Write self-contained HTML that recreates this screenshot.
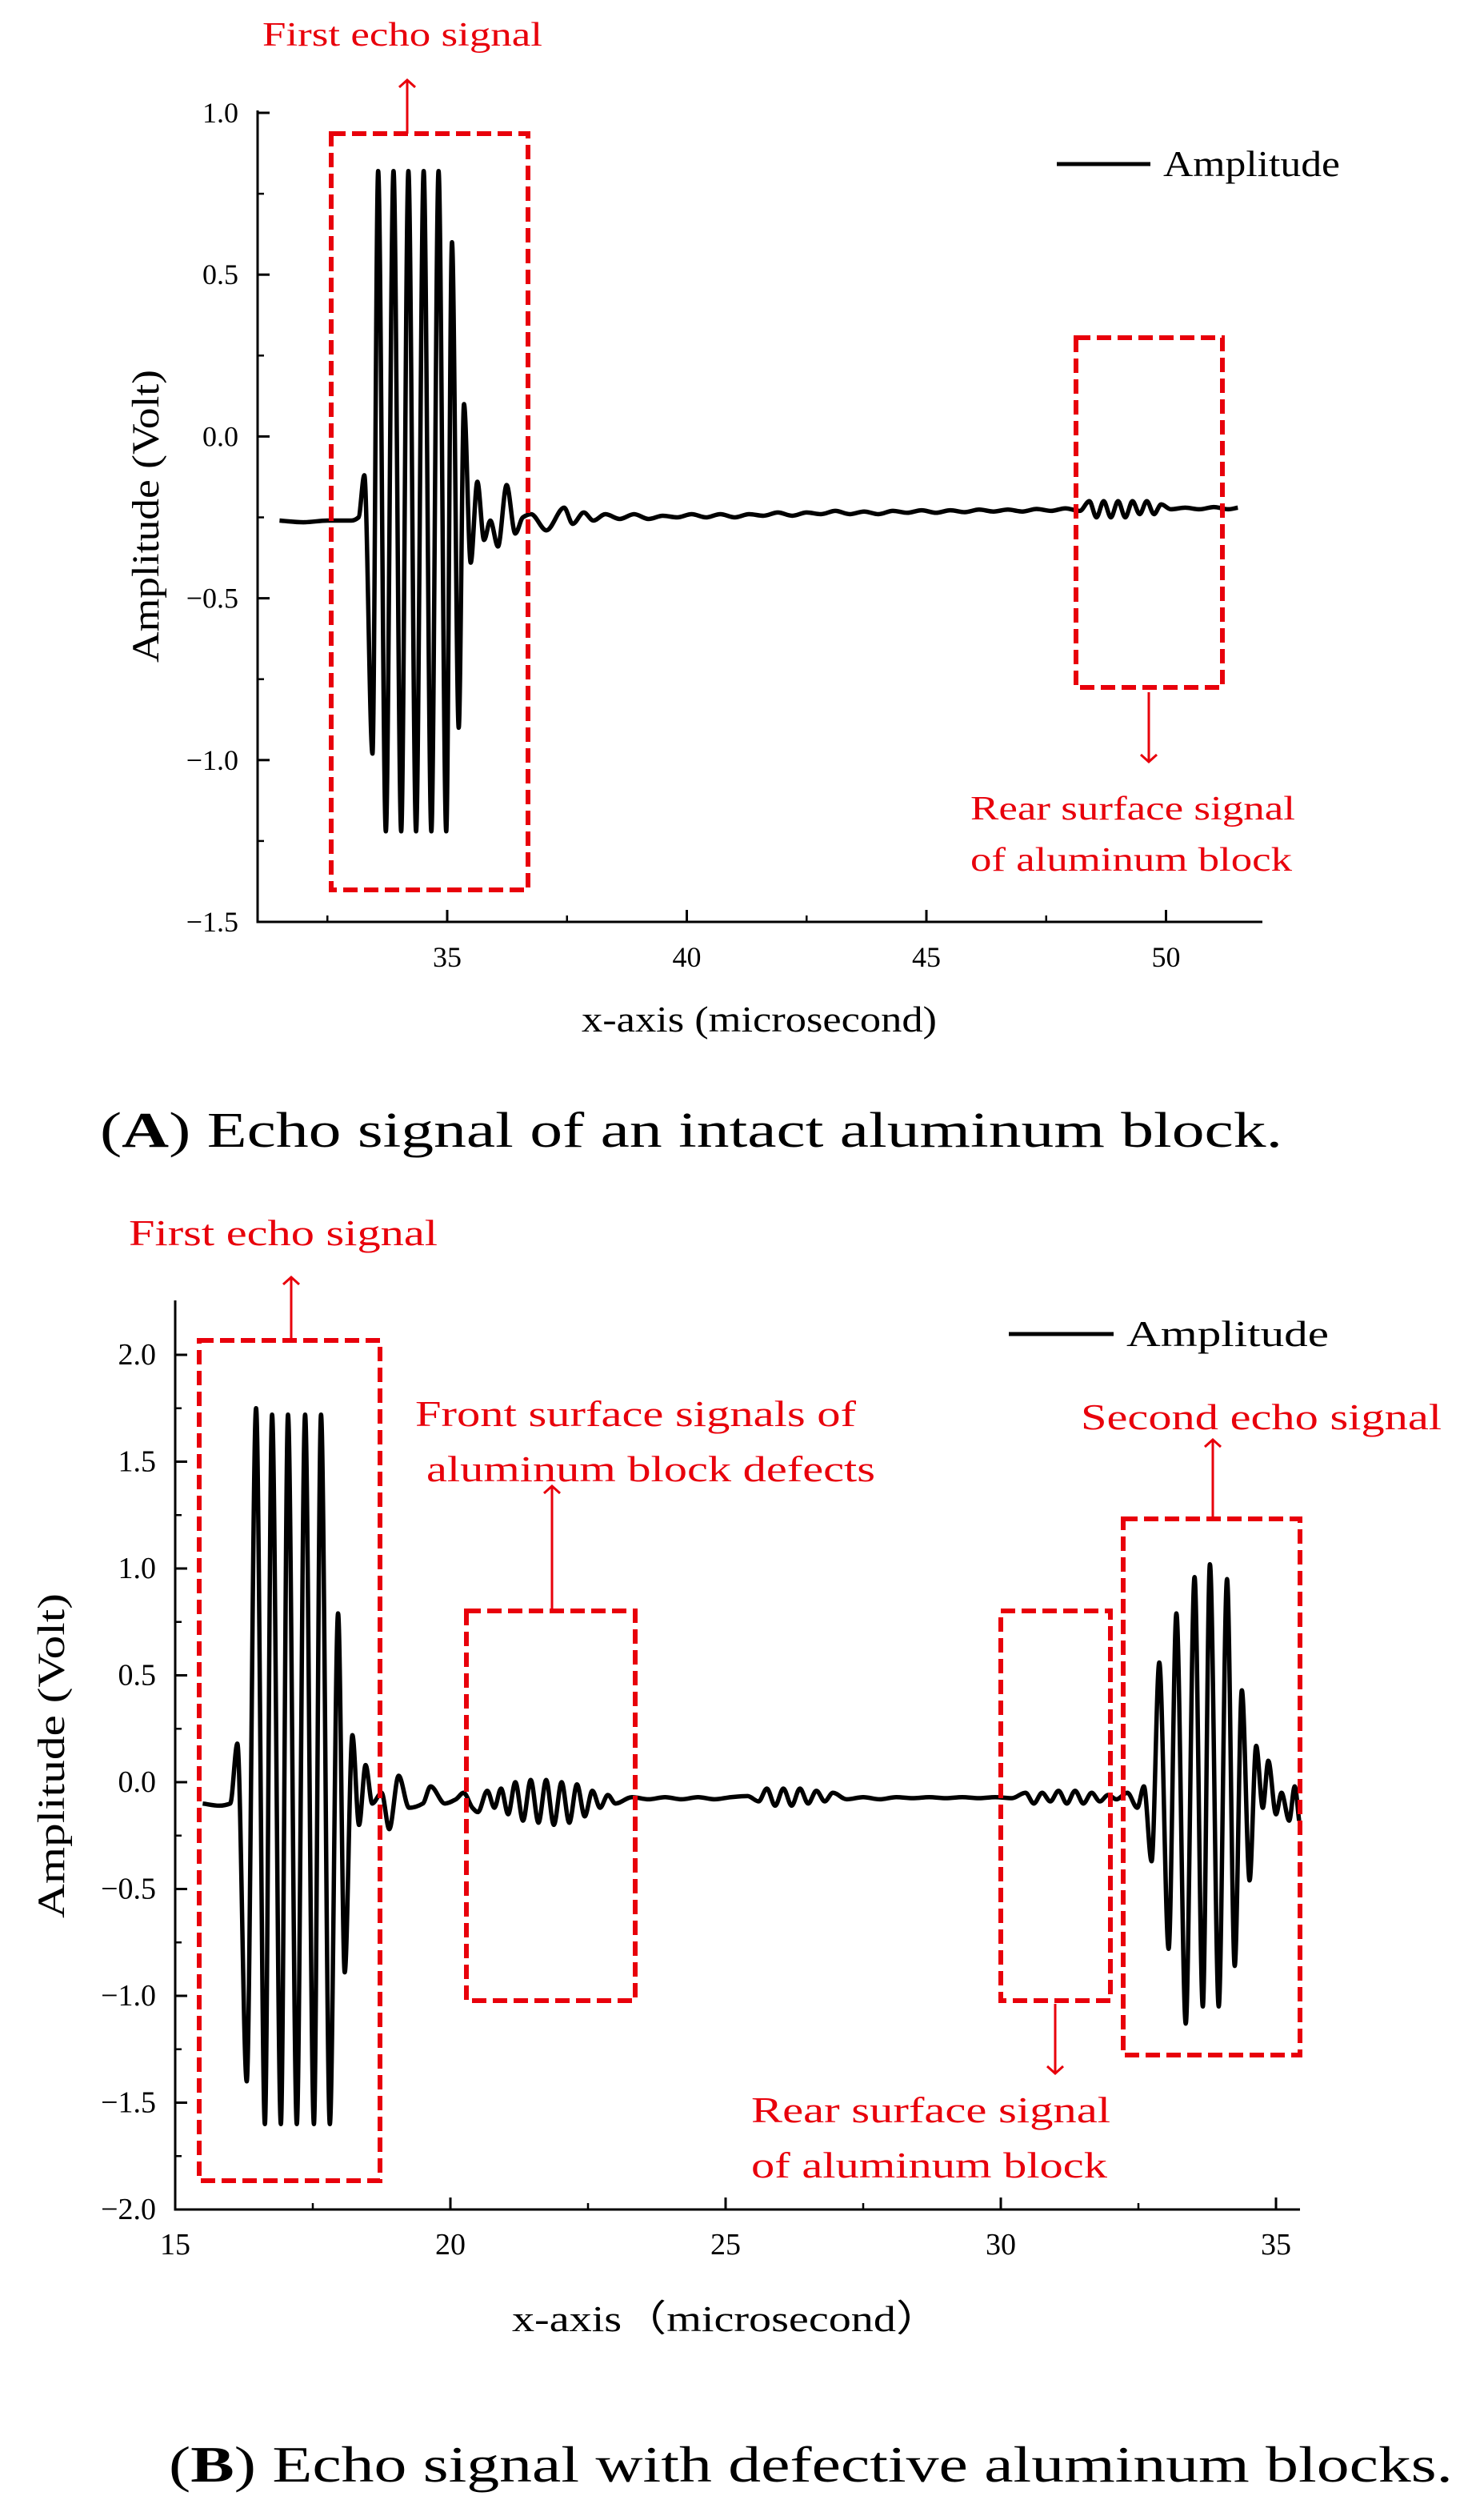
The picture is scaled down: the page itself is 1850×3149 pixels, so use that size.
<!DOCTYPE html>
<html><head><meta charset="utf-8"><style>
html,body{margin:0;padding:0;background:#fff}
svg{display:block}
text{font-family:"Liberation Serif",serif}
</style></head><body>
<svg id="fig" width="1850" height="3149" viewBox="0 0 1850 3149" xmlns="http://www.w3.org/2000/svg">
<defs>
<marker id="ah" markerWidth="20" markerHeight="24" refX="10" refY="12" orient="auto" markerUnits="userSpaceOnUse"><path d="M1,2 L10,12 L1,22" fill="none" stroke="#e8000b" stroke-width="3"/></marker>
</defs>
<g id="chartA"></g>
<g id="chartB"></g>

<!-- Chart A annotations -->
<g fill="#e8000b">
<rect x="414" y="167" width="246" height="945" fill="none" stroke="#e8000b" stroke-width="6" stroke-dasharray="18,8"/>
<line x1="509" y1="167" x2="509" y2="100" stroke="#e8000b" stroke-width="3" marker-end="url(#ah)"/>
<text x="328" y="57" font-size="42" textLength="350" lengthAdjust="spacingAndGlyphs">First echo signal</text>
<rect x="1345" y="422" width="183" height="437" fill="none" stroke="#e8000b" stroke-width="6" stroke-dasharray="18,8"/>
<line x1="1436" y1="865" x2="1436" y2="952" stroke="#e8000b" stroke-width="3" marker-end="url(#ah)"/>
<text x="1213" y="1024" font-size="42" textLength="406" lengthAdjust="spacingAndGlyphs">Rear surface signal</text>
<text x="1213" y="1088" font-size="42" textLength="402" lengthAdjust="spacingAndGlyphs">of aluminum block</text>
</g>
<text x="125" y="1433" font-size="62" textLength="1478" lengthAdjust="spacingAndGlyphs">(<tspan font-weight="bold">A</tspan>) Echo signal of an intact aluminum block.</text>

<!-- Chart B annotations -->
<g fill="#e8000b">
<rect x="249" y="1675" width="226" height="1050" fill="none" stroke="#e8000b" stroke-width="6" stroke-dasharray="18,8"/>
<line x1="364" y1="1675" x2="364" y2="1596" stroke="#e8000b" stroke-width="3" marker-end="url(#ah)"/>
<text x="161" y="1556" font-size="46" textLength="386" lengthAdjust="spacingAndGlyphs">First echo signal</text>
<rect x="583" y="2013" width="211" height="487" fill="none" stroke="#e8000b" stroke-width="6" stroke-dasharray="18,8"/>
<line x1="690" y1="2013" x2="690" y2="1857" stroke="#e8000b" stroke-width="3" marker-end="url(#ah)"/>
<text x="519" y="1782" font-size="46" textLength="551" lengthAdjust="spacingAndGlyphs">Front surface signals of</text>
<text x="533" y="1851" font-size="46" textLength="561" lengthAdjust="spacingAndGlyphs">aluminum block defects</text>
<rect x="1251" y="2013" width="137" height="487" fill="none" stroke="#e8000b" stroke-width="6" stroke-dasharray="18,8"/>
<line x1="1319" y1="2504" x2="1319" y2="2591" stroke="#e8000b" stroke-width="3" marker-end="url(#ah)"/>
<text x="939" y="2652" font-size="46" textLength="449" lengthAdjust="spacingAndGlyphs">Rear surface signal</text>
<text x="939" y="2721" font-size="46" textLength="445" lengthAdjust="spacingAndGlyphs">of aluminum block</text>
<rect x="1404" y="1898" width="221" height="670" fill="none" stroke="#e8000b" stroke-width="6" stroke-dasharray="18,8"/>
<line x1="1516" y1="1898" x2="1516" y2="1799" stroke="#e8000b" stroke-width="3" marker-end="url(#ah)"/>
<text x="1351" y="1786" font-size="46" textLength="451" lengthAdjust="spacingAndGlyphs">Second echo signal</text>
</g>
<text x="211" y="3101" font-size="64" textLength="1605" lengthAdjust="spacingAndGlyphs">(<tspan font-weight="bold">B</tspan>) Echo signal with defective aluminum blocks.</text>
</svg>
<script>
// ---- Chart A data ----
const aTimes = [31.5,32.0,32.5,33.0,33.15,33.27,33.44,33.56,33.72,33.88,34.04,34.19,34.35,34.51,34.67,34.82,34.98,35.1,35.24,35.35,35.49,35.63,35.77,35.9,36.06,36.24,36.42,36.58,36.75,
37.07,37.44,37.62,37.85,38.05,38.3,38.6,38.9,39.2,39.5,
39.8,40.1,40.4,40.7,41.0,41.3,41.6,41.9,42.2,42.5,42.8,43.1,43.4,43.7,44.0,44.3,44.6,44.9,45.2,45.5,45.8,46.1,46.4,46.7,47.0,47.3,47.6,47.9,48.2,
48.4,48.55,48.7,48.85,49.0,49.15,49.3,49.45,49.6,49.75,49.9,
50.1,50.4,50.7,51.0,51.3,51.5];
const aValues = [-0.26,-0.265,-0.26,-0.26,-0.25,-0.12,-0.98,0.82,-1.22,0.82,-1.22,0.82,-1.22,0.82,-1.22,0.82,-1.22,0.6,-0.9,0.1,-0.39,-0.14,-0.32,-0.26,-0.34,-0.15,-0.3,-0.25,-0.24,
-0.29,-0.22,-0.27,-0.235,-0.26,-0.24,-0.255,-0.24,-0.255,-0.245,
-0.25,-0.24,-0.25,-0.24,-0.25,-0.24,-0.245,-0.235,-0.245,-0.235,-0.24,-0.23,-0.24,-0.232,-0.24,-0.23,-0.236,-0.228,-0.236,-0.228,-0.234,-0.226,-0.232,-0.226,-0.232,-0.224,-0.23,-0.222,-0.23,
-0.2,-0.25,-0.2,-0.25,-0.2,-0.25,-0.2,-0.24,-0.2,-0.24,-0.21,
-0.225,-0.22,-0.225,-0.218,-0.225,-0.22];
const aXTicks = [35,40,45,50];
const aXMinor = [32.5,37.5,42.5,47.5];
const aYTicks = [-1.5,-1.0,-0.5,0.0,0.5,1.0];
const aYTickLabels = ["\u22121.5","\u22121.0","\u22120.5","0.0","0.5","1.0"];
const aYMinor = [-1.25,-0.75,-0.25,0.25,0.75];

// ---- Chart B data ----
const bTimes = [15.5,15.8,16.0,16.13,16.3,16.47,16.63,16.76,16.92,17.05,17.21,17.36,17.52,17.65,17.81,17.96,18.08,18.22,18.34,18.46,18.58,18.75,18.89,19.06,19.25,19.5,19.64,19.9,20.1,20.24,20.4,20.5,20.67,
20.8,20.92,21.05,21.18,21.32,21.46,21.6,21.74,21.88,22.02,22.16,22.3,22.44,22.58,22.72,22.86,23.0,
23.3,23.6,23.9,24.2,24.5,24.8,25.1,25.4,25.6,25.75,25.9,26.05,26.2,26.35,26.5,26.65,26.8,26.95,27.2,27.5,27.8,28.1,28.4,28.7,29.0,29.3,29.6,29.9,30.2,
30.45,30.6,30.75,30.9,31.05,31.2,31.35,31.5,31.65,31.8,31.95,32.1,32.3,32.48,32.6,32.74,32.88,33.05,33.19,33.36,33.52,33.67,33.8,33.96,34.11,34.25,34.38,34.52,34.64,34.76,34.86,35.0,35.1,35.24,35.34,35.42];
const bValues = [-0.1,-0.11,-0.1,0.18,-1.4,1.75,-1.6,1.72,-1.6,1.72,-1.6,1.72,-1.6,1.72,-1.6,0.79,-0.89,0.22,-0.2,0.08,-0.1,-0.05,-0.22,0.03,-0.12,-0.1,-0.02,-0.1,-0.08,-0.05,-0.12,-0.14,-0.04,
-0.12,-0.03,-0.15,0.0,-0.18,0.01,-0.19,0.01,-0.2,0.0,-0.19,-0.01,-0.16,-0.04,-0.12,-0.06,-0.1,
-0.07,-0.08,-0.07,-0.08,-0.07,-0.08,-0.07,-0.065,-0.09,-0.03,-0.11,-0.03,-0.11,-0.03,-0.1,-0.04,-0.09,-0.05,-0.08,-0.07,-0.08,-0.07,-0.075,-0.07,-0.075,-0.07,-0.075,-0.07,-0.075,
-0.05,-0.1,-0.05,-0.09,-0.04,-0.1,-0.04,-0.1,-0.05,-0.09,-0.06,-0.08,-0.05,-0.12,-0.02,-0.37,0.56,-0.78,0.79,-1.13,0.96,-1.05,1.02,-1.05,0.95,-0.86,0.43,-0.46,0.17,-0.12,0.1,-0.15,-0.05,-0.18,-0.02,-0.18];
const bXTicks = [15,20,25,30,35];
const bXMinor = [17.5,22.5,27.5,32.5];
const bYTicks = [-2.0,-1.5,-1.0,-0.5,0.0,0.5,1.0,1.5,2.0];
const bYTickLabels = ["\u22122.0","\u22121.5","\u22121.0","\u22120.5","0.0","0.5","1.0","1.5","2.0"];
const bYMinor = [-1.75,-1.25,-0.75,-0.25,0.25,0.75,1.25,1.75];

const NS = "http://www.w3.org/2000/svg";
function mk(tag, attrs, parent){
  const e = document.createElementNS(NS, tag);
  for (const k in attrs) e.setAttribute(k, attrs[k]);
  parent.appendChild(e);
  return e;
}
function monotonePath(xs, ys){
  const n = xs.length, d = [], m = new Array(n);
  for (let i=0;i<n-1;i++) d.push((ys[i+1]-ys[i])/(xs[i+1]-xs[i]));
  m[0]=d[0]; m[n-1]=d[n-2];
  for (let i=1;i<n-1;i++){
    if (d[i-1]*d[i] <= 0) m[i]=0;
    else { const w1=2*(xs[i+1]-xs[i])+(xs[i]-xs[i-1]), w2=(xs[i+1]-xs[i])+2*(xs[i]-xs[i-1]);
      m[i]=(w1+w2)/(w1/d[i-1]+w2/d[i]); }
  }
  let p = "M"+xs[0].toFixed(1)+","+ys[0].toFixed(1);
  for (let i=0;i<n-1;i++){
    const h=(xs[i+1]-xs[i])/3;
    p += " C"+(xs[i]+h).toFixed(1)+","+(ys[i]+m[i]*h).toFixed(1)+" "+(xs[i+1]-h).toFixed(1)+","+(ys[i+1]-m[i+1]*h).toFixed(1)+" "+xs[i+1].toFixed(1)+","+ys[i+1].toFixed(1);
  }
  return p;
}

function drawChart(cfg){
  const g = document.getElementById(cfg.id);
  const X = t => cfg.x0 + (t - cfg.t0) * cfg.px;
  const Y = v => cfg.y0 + (cfg.v0 - v) * cfg.py;
  const yAxis = mk("line",{x1:cfg.left,y1:cfg.bottom,x2:cfg.left,y2:cfg.top,stroke:"#000","stroke-width":3},g);
  
  
  const xAxis = mk("line",{x1:cfg.left-1.5,y1:cfg.bottom,x2:cfg.right,y2:cfg.bottom,stroke:"#000","stroke-width":3},g);
  
  
  cfg.xTicks.forEach(t=>{
    const tk = mk("line",{x1:X(t),y1:cfg.bottom,x2:X(t),y2:cfg.bottom-15,stroke:"#000","stroke-width":3},g);
    
    
    const lb = mk("text",{x:X(t),y:cfg.bottom+56,"font-size":cfg.fs,"text-anchor":"middle"},g);
    lb.textContent = String(t);
    
    
  });
  cfg.xMinor.forEach(t=>{
    const tk = mk("line",{x1:X(t),y1:cfg.bottom,x2:X(t),y2:cfg.bottom-8,stroke:"#000","stroke-width":2.5},g);
    
    
  });
  cfg.yTicks.forEach((v,i)=>{
    const tk = mk("line",{x1:cfg.left,y1:Y(v),x2:cfg.left+15,y2:Y(v),stroke:"#000","stroke-width":3},g);
    
    
    const lb = mk("text",{x:cfg.left-24,y:Y(v)+12,"font-size":cfg.fs,"text-anchor":"end"},g);
    lb.textContent = cfg.yLabels[i];
    
    
  });
  cfg.yMinor.forEach(v=>{
    const tk = mk("line",{x1:cfg.left,y1:Y(v),x2:cfg.left+8,y2:Y(v),stroke:"#000","stroke-width":2.5},g);
    
    
  });
  const xs = cfg.times.map(X), ys = cfg.values.map(Y);
  const line = mk("path",{d:monotonePath(xs,ys),fill:"none",stroke:"#000","stroke-width":cfg.lw,"stroke-linejoin":"round"},g);
  
  
  const xt = mk("text",{x:cfg.xTitle[0],y:cfg.xTitle[1],"font-size":46,textLength:cfg.xTitle[2],lengthAdjust:"spacingAndGlyphs"},g);
  xt.textContent = cfg.xTitleText;
  
  
  const yt = mk("text",{x:0,y:0,"font-size":48,"text-anchor":"middle",textLength:cfg.yTitle[2],lengthAdjust:"spacingAndGlyphs",transform:"translate("+cfg.yTitle[0]+","+cfg.yTitle[1]+") rotate(-90)"},g);
  yt.textContent = "Amplitude (Volt)";
  
  
  const lg = mk("line",{x1:cfg.legend[0],y1:cfg.legend[2],x2:cfg.legend[1],y2:cfg.legend[2],stroke:"#000","stroke-width":5},g);
  
  
  const lt = mk("text",{x:cfg.legend[3],y:cfg.legend[2]+15,"font-size":46,textLength:cfg.legend[4],lengthAdjust:"spacingAndGlyphs"},g);
  lt.textContent = "Amplitude";
  
  
}

drawChart({id:"chartA", times:aTimes, values:aValues, xTicks:aXTicks, xMinor:aXMinor, yTicks:aYTicks, yLabels:aYTickLabels, yMinor:aYMinor,
  t0:35, x0:559, px:59.9, v0:1.0, y0:141, py:404.4, left:322, right:1578, top:138, bottom:1152, fs:36, lw:5.5,
  xTitle:[727,1289,444], xTitleText:"x-axis (microsecond)", yTitle:[198,645,366], legend:[1321,1438,205,1454,221]});
drawChart({id:"chartB", times:bTimes, values:bValues, xTicks:bXTicks, xMinor:bXMinor, yTicks:bYTicks, yLabels:bYTickLabels, yMinor:bYMinor,
  t0:15, x0:219, px:68.8, v0:2.0, y0:1693, py:267, left:219, right:1625, top:1625, bottom:2761, fs:38, lw:5.5,
  xTitle:[640,2913,536], xTitleText:"x-axis\uff08microsecond\uff09", yTitle:[80,2194,406], legend:[1261,1392,1667,1408,253]});
</script>
</body></html>
